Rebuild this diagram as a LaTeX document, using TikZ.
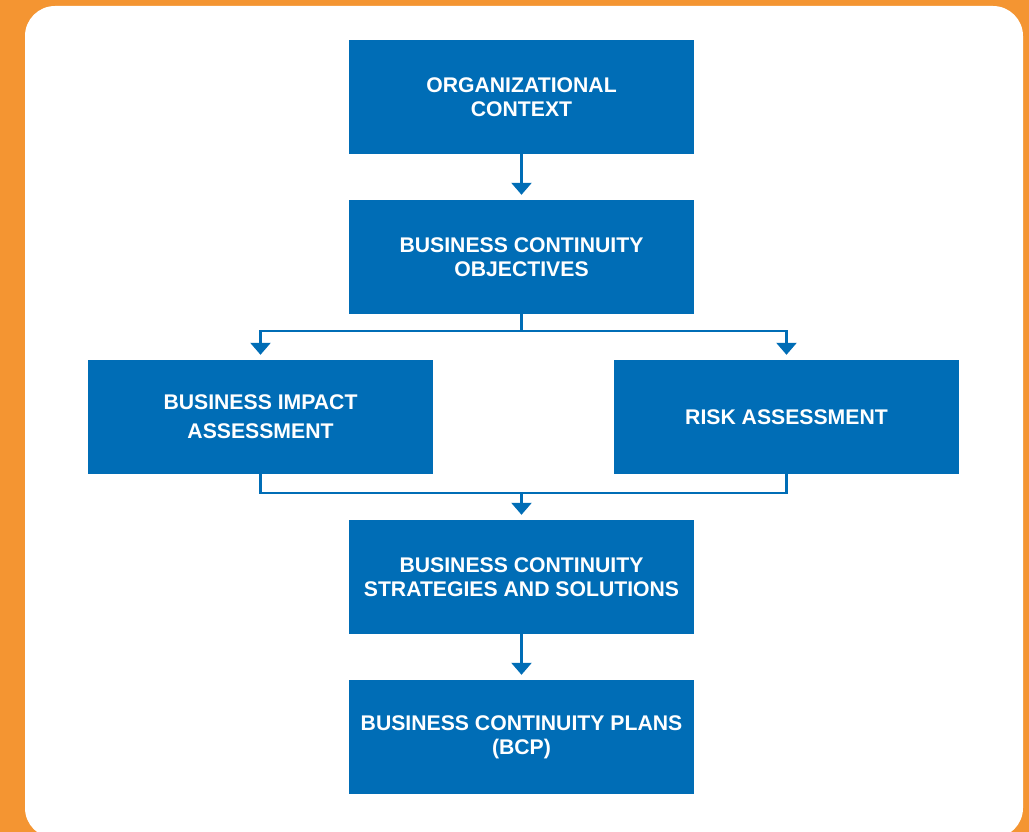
\documentclass[tikz,border=0pt]{standalone}
\usepackage{fontspec}
\setmainfont{Liberation Sans}
\usetikzlibrary{arrows.meta,calc}
\definecolor{bcblue}{RGB}{0,109,182}
\definecolor{bcorange}{RGB}{244,149,50}
\tikzstyle{box}=[rectangle,fill=bcblue,minimum width=345pt,minimum height=114pt,inner sep=0pt,text=white,align=center,anchor=center,font=\fontsize{21.2}{24}\selectfont\bfseries]
\tikzstyle{link}=[draw=bcblue,line width=2.5pt]
\tikzstyle{flow}=[link,-{Triangle[width=20pt,length=12pt]},shorten >=5pt]
\begin{document}
\begin{tikzpicture}[x=1pt,y=-1pt]
	\useasboundingbox (0,0) rectangle (1029,832);
	\fill[bcorange] (0,0) rectangle (1029,832);
	\begin{scope}
		\clip (0,0) rectangle (1029,832);
		\fill[white,rounded corners=30pt] (25,6) rectangle (1023,838);
	\end{scope}

	\node[box](ctx) at (521.5,97){ORGANIZATIONAL\\CONTEXT};
	\node[box](obj) at (521.5,257){BUSINESS CONTINUITY\\OBJECTIVES};
	\node[box](bia) at (260.5,417){BUSINESS IMPACT\\[5pt]ASSESSMENT};
	\node[box](risk) at (786.5,417){RISK ASSESSMENT};
	\node[box](strat) at (521.5,577){BUSINESS CONTINUITY\\STRATEGIES AND SOLUTIONS};
	\node[box](bcp) at (521.5,737){BUSINESS CONTINUITY PLANS\\(BCP)};

	\coordinate (split) at (obj.south |- 0,331);
	\coordinate (join) at (strat.north |- 0,493);

	\draw[flow] (ctx.south) -- (obj.north);
	\draw[link] (obj.south) -- (split);
	\draw[flow] (split) -| (bia.north);
	\draw[flow] (split) -| (risk.north);
	\draw[link] (bia.south) |- (join) -| (risk.south);
	\draw[flow] (join) -- (strat.north);
	\draw[flow] (strat.south) -- (bcp.north);
\end{tikzpicture}
\end{document}
